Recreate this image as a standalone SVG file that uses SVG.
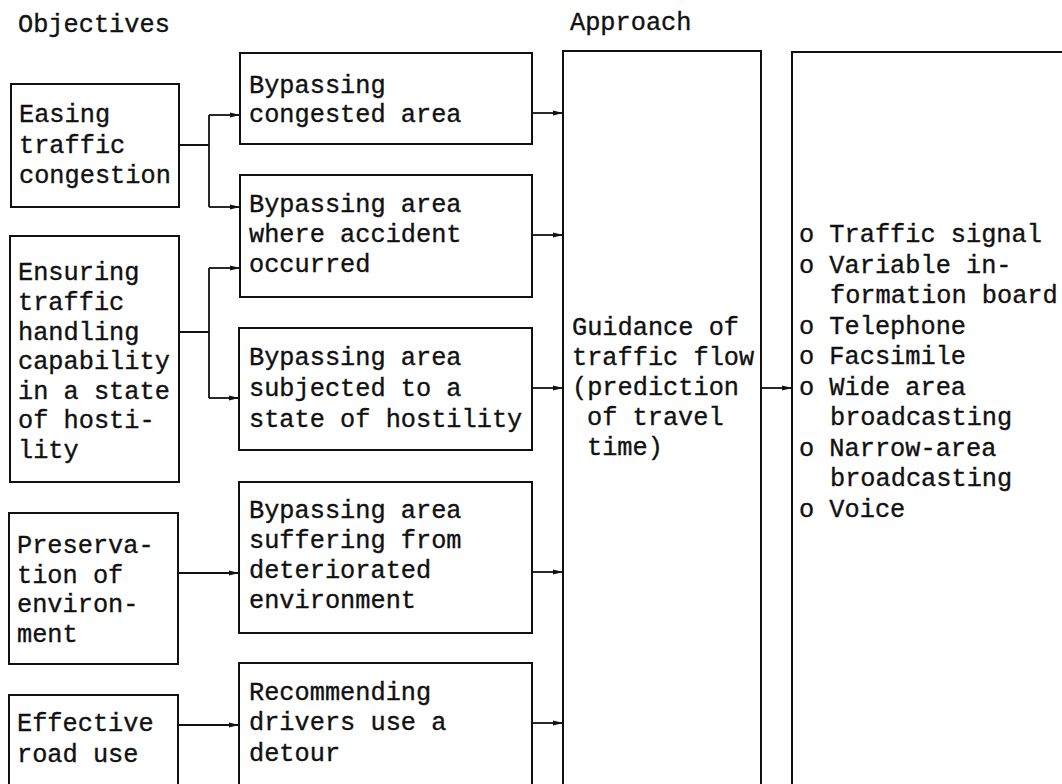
<svg xmlns="http://www.w3.org/2000/svg" width="1062" height="784" viewBox="0 0 1062 784">
<style>
  .t { font-family: "Liberation Mono", "DejaVu Sans Mono", monospace; font-size: 25.3px; fill: #111; stroke: #111; stroke-width: 0.35; }
  .box { fill: none; stroke: #111; stroke-width: 2; }
  .ln { fill: none; stroke: #111; stroke-width: 1.8; }
  .ar { fill: none; stroke: #111; stroke-width: 1.8; marker-end: url(#ah); }
</style>
<defs>
  <marker id="ah" viewBox="0 0 10 6" refX="10" refY="3" markerWidth="10" markerHeight="6" markerUnits="userSpaceOnUse" orient="auto">
    <path d="M0,0.6 L10,3 L0,5.4 Z" fill="#111"/>
  </marker>
</defs>
<rect width="1062" height="784" fill="#fff"/>

<g id="headers">
  <text class="t" x="18" y="32">Objectives</text>
  <text class="t" x="570" y="30">Approach</text>
</g>

<g id="obj-easing">
  <rect class="box" x="11" y="84" width="168" height="123"/>
  <text class="t" x="19" y="122">Easing</text>
  <text class="t" x="19" y="153">traffic</text>
  <text class="t" x="19" y="183">congestion</text>
</g>

<g id="obj-ensuring">
  <rect class="box" x="10" y="236" width="169" height="246"/>
  <text class="t" x="18" y="280">Ensuring</text>
  <text class="t" x="18" y="310">traffic</text>
  <text class="t" x="18" y="339.5">handling</text>
  <text class="t" x="18" y="369">capability</text>
  <text class="t" x="18" y="399">in a state</text>
  <text class="t" x="18" y="428">of hosti-</text>
  <text class="t" x="18" y="458">lity</text>
</g>

<g id="obj-preservation">
  <rect class="box" x="9" y="513" width="169" height="151"/>
  <text class="t" x="17" y="553">Preserva-</text>
  <text class="t" x="17" y="582.5">tion of</text>
  <text class="t" x="17" y="612">environ-</text>
  <text class="t" x="17" y="641.5">ment</text>
</g>

<g id="obj-effective">
  <path class="box" d="M9,800 V695 H178 V800"/>
  <text class="t" x="17" y="731">Effective</text>
  <text class="t" x="17" y="762">road use</text>
</g>

<g id="m-congested">
  <rect class="box" x="240" y="53" width="292" height="91"/>
  <text class="t" x="249" y="93">Bypassing</text>
  <text class="t" x="249" y="122">congested area</text>
</g>

<g id="m-accident">
  <rect class="box" x="240" y="175" width="292" height="122"/>
  <text class="t" x="249" y="212">Bypassing area</text>
  <text class="t" x="249" y="242">where accident</text>
  <text class="t" x="249" y="272">occurred</text>
</g>

<g id="m-hostility">
  <rect class="box" x="239" y="328" width="293" height="122"/>
  <text class="t" x="249" y="365">Bypassing area</text>
  <text class="t" x="249" y="396">subjected to a</text>
  <text class="t" x="249" y="427">state of hostility</text>
</g>

<g id="m-environment">
  <rect class="box" x="239" y="482" width="293" height="151"/>
  <text class="t" x="249" y="518">Bypassing area</text>
  <text class="t" x="249" y="548">suffering from</text>
  <text class="t" x="249" y="578">deteriorated</text>
  <text class="t" x="249" y="608">environment</text>
</g>

<g id="m-detour">
  <path class="box" d="M239,800 V663 H532 V800"/>
  <text class="t" x="249" y="700">Recommending</text>
  <text class="t" x="249" y="730">drivers use a</text>
  <text class="t" x="249" y="761">detour</text>
</g>

<g id="approach">
  <path class="box" d="M563,800 V51 H761 V800"/>
  <text class="t" x="572" y="335">Guidance of</text>
  <text class="t" x="572" y="365">traffic flow</text>
  <text class="t" x="572" y="395">(prediction</text>
  <text class="t" x="587" y="425">of travel</text>
  <text class="t" x="587" y="455">time)</text>
</g>

<g id="media">
  <path class="box" d="M1070,52 H792 V800"/>
  <text class="t" x="799" y="242">o Traffic signal</text>
  <text class="t" x="799" y="272.5">o Variable in-</text>
  <text class="t" x="830" y="303">formation board</text>
  <text class="t" x="799" y="333.5">o Telephone</text>
  <text class="t" x="799" y="364">o Facsimile</text>
  <text class="t" x="799" y="394.5">o Wide area</text>
  <text class="t" x="830" y="425">broadcasting</text>
  <text class="t" x="799" y="455.5">o Narrow-area</text>
  <text class="t" x="830" y="486">broadcasting</text>
  <text class="t" x="799" y="516.5">o Voice</text>
</g>

<g id="connectors">
  <path class="ln" d="M179,145 H209 M209,115 V207 M209,268 V398 M179,332 H209"/>
  <path class="ar" d="M209,115 H240"/>
  <path class="ar" d="M209,207 H240"/>
  <path class="ar" d="M209,268 H240"/>
  <path class="ar" d="M209,398 H239"/>
  <path class="ar" d="M178,573 H239"/>
  <path class="ar" d="M178,725 H239"/>
  <path class="ar" d="M532,113 H563"/>
  <path class="ar" d="M532,235 H563"/>
  <path class="ar" d="M532,388 H563"/>
  <path class="ar" d="M532,572 H563"/>
  <path class="ar" d="M532,723 H563"/>
  <path class="ar" d="M761,388 H792"/>
</g>
</svg>
